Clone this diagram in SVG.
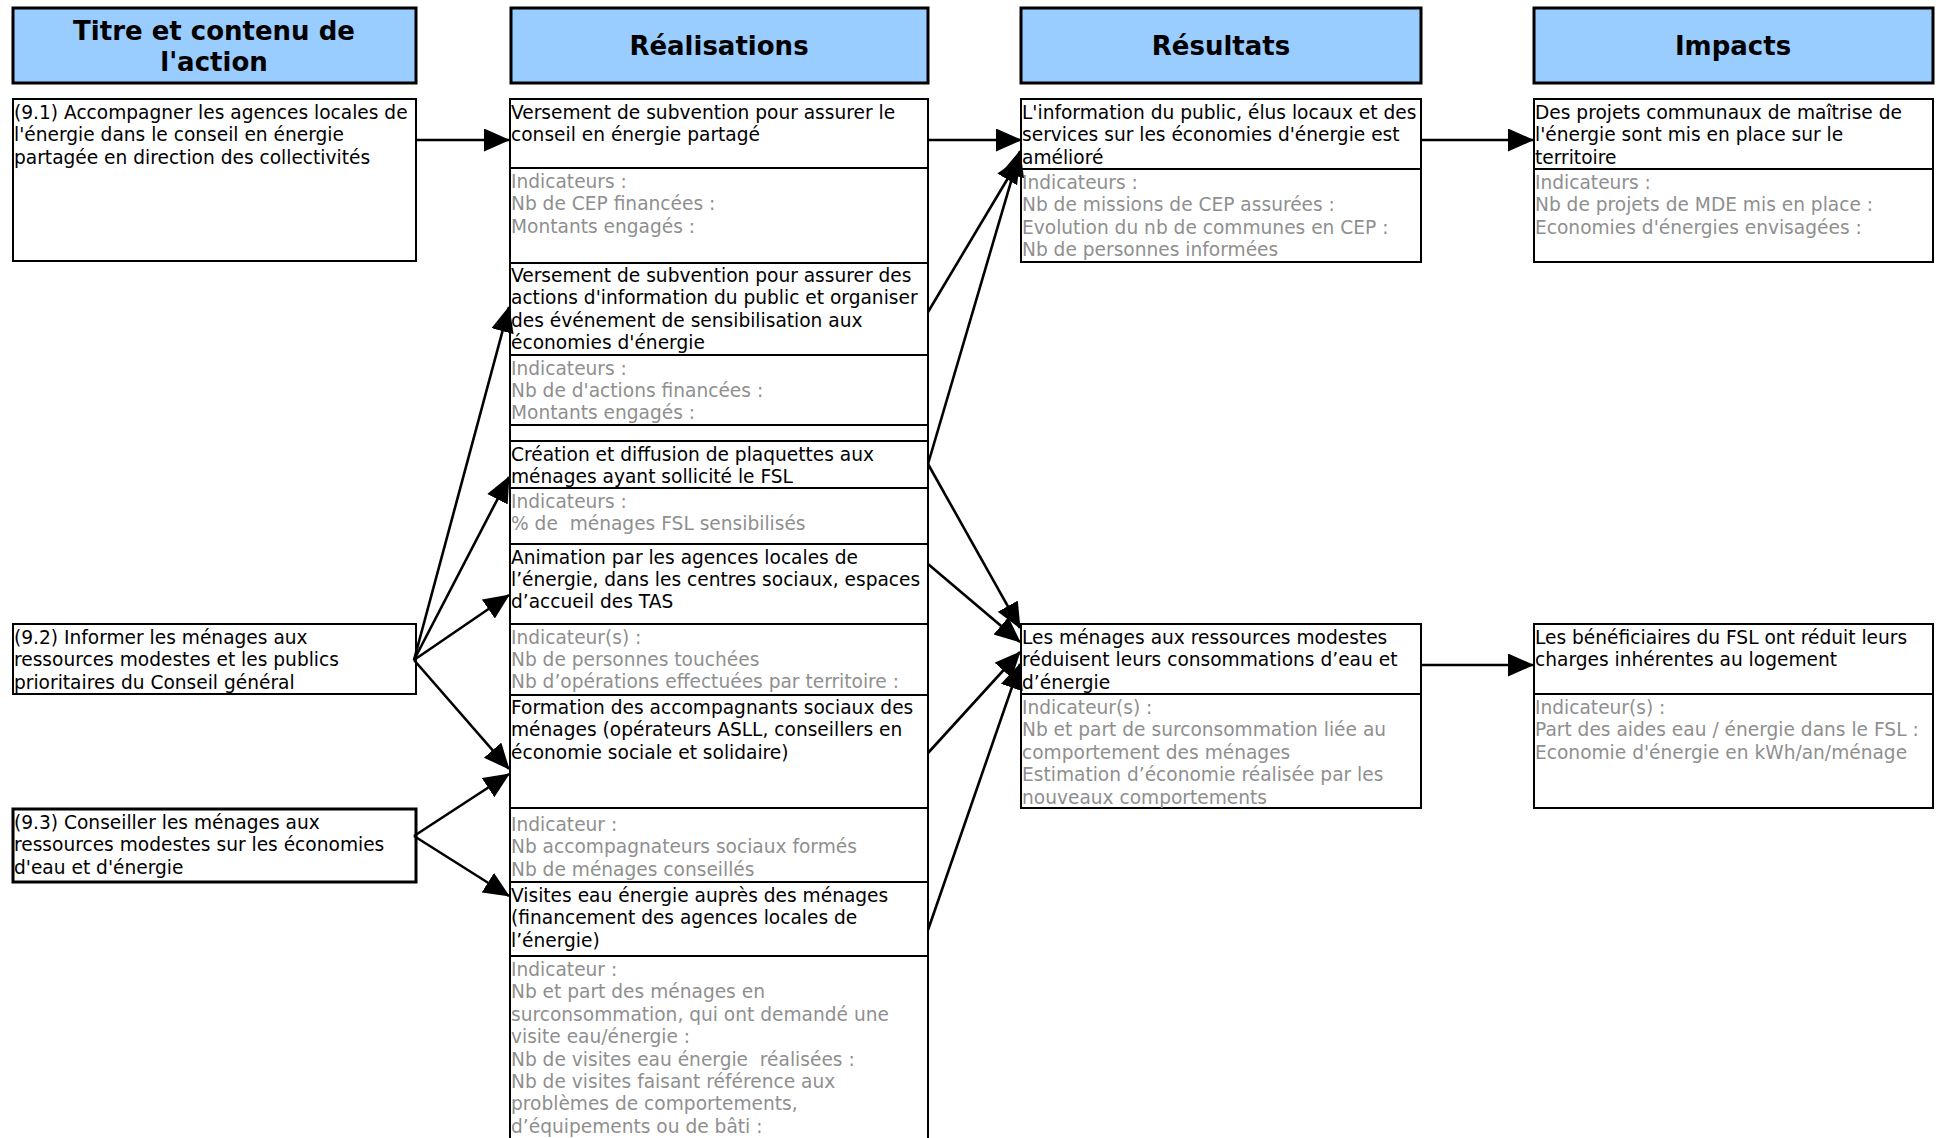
<svg xmlns="http://www.w3.org/2000/svg" width="1942" height="1138" viewBox="0 0 1942 1138">
<style>
.hdr{fill:#99CCFF;stroke:#000;stroke-width:3}
.box{fill:#fff;stroke:#000;stroke-width:2}
.box3{fill:#fff;stroke:#000;stroke-width:3}
.t{font-family:"DejaVu Sans",Verdana,sans-serif;font-size:18.6px;fill:#000}
.g{fill:#8f8f8f}
.h{font-family:"DejaVu Sans",Verdana,sans-serif;font-weight:bold;font-size:26px;text-anchor:middle;fill:#000}
.c{stroke:#000;stroke-width:2.6;fill:none;marker-end:url(#ah)}
</style>
<defs>
<marker id="ah" markerUnits="userSpaceOnUse" markerWidth="26" markerHeight="24" refX="25" refY="11.5" orient="auto">
<path d="M0,0 L26,11.5 L0,23 z" fill="#000"/>
</marker>
</defs>
<rect width="1942" height="1138" fill="#fff"/>

<g id="header-titre"><rect class="hdr" x="13" y="8" width="403" height="75"/><text class="h" x="214" y="39.5">Titre et contenu de</text><text class="h" x="214" y="70.5">l'action</text></g>
<g id="header-realisations"><rect class="hdr" x="511" y="8" width="417" height="75"/><text class="h" x="719" y="55">Réalisations</text></g>
<g id="header-resultats"><rect class="hdr" x="1021" y="8" width="400" height="75"/><text class="h" x="1221" y="55">Résultats</text></g>
<g id="header-impacts"><rect class="hdr" x="1534" y="8" width="399" height="75"/><text class="h" x="1733" y="55">Impacts</text></g>

<g id="action-9-1"><rect class="box" x="13" y="99" width="403" height="162"/>
<text class="t" x="14" y="119"><tspan x="14">(9.1) Accompagner les agences locales de</tspan><tspan x="14" dy="22.4">l'énergie dans le conseil en énergie</tspan><tspan x="14" dy="22.4">partagée en direction des collectivités</tspan></text></g>
<g id="action-9-2"><rect class="box" x="13" y="624" width="403" height="70"/>
<text class="t" x="14" y="644"><tspan x="14">(9.2) Informer les ménages aux</tspan><tspan x="14" dy="22.4">ressources modestes et les publics</tspan><tspan x="14" dy="22.4">prioritaires du Conseil général</tspan></text></g>
<g id="action-9-3"><rect class="box3" x="13" y="809" width="403" height="73"/>
<text class="t" x="14" y="829"><tspan x="14">(9.3) Conseiller les ménages aux</tspan><tspan x="14" dy="22.4">ressources modestes sur les économies</tspan><tspan x="14" dy="22.4">d'eau et d'énergie</tspan></text></g>

<g id="real-1"><rect class="box" x="510" y="99" width="418" height="69"/><rect class="box" x="510" y="168" width="418" height="95"/>
<text class="t" x="511" y="119"><tspan x="511">Versement de subvention pour assurer le</tspan><tspan x="511" dy="22.4">conseil en énergie partagé</tspan></text>
<text class="t g" x="511" y="188"><tspan x="511">Indicateurs :</tspan><tspan x="511" dy="22.4">Nb de CEP financées :</tspan><tspan x="511" dy="22.4">Montants engagés :</tspan></text></g>
<g id="real-2"><rect class="box" x="510" y="263" width="418" height="92"/><rect class="box" x="510" y="355" width="418" height="70"/><rect class="box" x="510" y="425" width="418" height="16"/>
<text class="t" x="511" y="282"><tspan x="511">Versement de subvention pour assurer des</tspan><tspan x="511" dy="22.4">actions d'information du public et organiser</tspan><tspan x="511" dy="22.4">des événement de sensibilisation aux</tspan><tspan x="511" dy="22.4">économies d'énergie</tspan></text>
<text class="t g" x="511" y="374.5"><tspan x="511">Indicateurs :</tspan><tspan x="511" dy="22.4">Nb de d'actions financées :</tspan><tspan x="511" dy="22.4">Montants engagés :</tspan></text></g>
<g id="real-3"><rect class="box" x="510" y="441" width="418" height="47"/><rect class="box" x="510" y="488" width="418" height="56"/>
<text class="t" x="511" y="461"><tspan x="511">Création et diffusion de plaquettes aux</tspan><tspan x="511" dy="22.4">ménages ayant sollicité le FSL</tspan></text>
<text class="t g" x="511" y="507.5"><tspan x="511">Indicateurs :</tspan><tspan x="511" dy="22.4" xml:space="preserve">% de  ménages FSL sensibilisés</tspan></text></g>
<g id="real-4"><rect class="box" x="510" y="544" width="418" height="80"/><rect class="box" x="510" y="624" width="418" height="71"/>
<text class="t" x="511" y="563.5"><tspan x="511">Animation par les agences locales de</tspan><tspan x="511" dy="22.4">l’énergie, dans les centres sociaux, espaces</tspan><tspan x="511" dy="22.4">d’accueil des TAS</tspan></text>
<text class="t g" x="511" y="643.5"><tspan x="511">Indicateur(s) :</tspan><tspan x="511" dy="22.4">Nb de personnes touchées</tspan><tspan x="511" dy="22.4">Nb d’opérations effectuées par territoire :</tspan></text></g>
<g id="real-5"><rect class="box" x="510" y="695" width="418" height="113"/><rect class="box" x="510" y="808" width="418" height="74"/>
<text class="t" x="511" y="714"><tspan x="511">Formation des accompagnants sociaux des</tspan><tspan x="511" dy="22.4">ménages (opérateurs ASLL, conseillers en</tspan><tspan x="511" dy="22.4">économie sociale et solidaire)</tspan></text>
<text class="t g" x="511" y="831"><tspan x="511">Indicateur :</tspan><tspan x="511" dy="22.4">Nb accompagnateurs sociaux formés</tspan><tspan x="511" dy="22.4">Nb de ménages conseillés</tspan></text></g>
<g id="real-6"><rect class="box" x="510" y="882" width="418" height="74"/><rect class="box" x="510" y="956" width="418" height="190"/>
<text class="t" x="511" y="902"><tspan x="511">Visites eau énergie auprès des ménages</tspan><tspan x="511" dy="22.4">(financement des agences locales de</tspan><tspan x="511" dy="22.4">l’énergie)</tspan></text>
<text class="t g" x="511" y="976" xml:space="preserve"><tspan x="511">Indicateur :</tspan><tspan x="511" dy="22.4">Nb et part des ménages en</tspan><tspan x="511" dy="22.4">surconsommation, qui ont demandé une</tspan><tspan x="511" dy="22.4">visite eau/énergie :</tspan><tspan x="511" dy="22.4">Nb de visites eau énergie  réalisées :</tspan><tspan x="511" dy="22.4">Nb de visites faisant référence aux</tspan><tspan x="511" dy="22.4">problèmes de comportements,</tspan><tspan x="511" dy="22.4">d’équipements ou de bâti :</tspan></text></g>

<g id="resultat-1"><rect class="box" x="1021" y="99" width="400" height="70"/><rect class="box" x="1021" y="169" width="400" height="93"/>
<text class="t" x="1022" y="119"><tspan x="1022">L'information du public, élus locaux et des</tspan><tspan x="1022" dy="22.4">services sur les économies d'énergie est</tspan><tspan x="1022" dy="22.4">amélioré</tspan></text>
<text class="t g" x="1022" y="189"><tspan x="1022">Indicateurs :</tspan><tspan x="1022" dy="22.4">Nb de missions de CEP assurées :</tspan><tspan x="1022" dy="22.4">Evolution du nb de communes en CEP :</tspan><tspan x="1022" dy="22.4">Nb de personnes informées</tspan></text></g>
<g id="resultat-2"><rect class="box" x="1021" y="624" width="400" height="70"/><rect class="box" x="1021" y="694" width="400" height="114"/>
<text class="t" x="1022" y="644"><tspan x="1022">Les ménages aux ressources modestes</tspan><tspan x="1022" dy="22.4">réduisent leurs consommations d’eau et</tspan><tspan x="1022" dy="22.4">d’énergie</tspan></text>
<text class="t g" x="1022" y="714"><tspan x="1022">Indicateur(s) :</tspan><tspan x="1022" dy="22.4">Nb et part de surconsommation liée au</tspan><tspan x="1022" dy="22.4">comportement des ménages</tspan><tspan x="1022" dy="22.4">Estimation d’économie réalisée par les</tspan><tspan x="1022" dy="22.4">nouveaux comportements</tspan></text></g>

<g id="impact-1"><rect class="box" x="1534" y="99" width="399" height="70"/><rect class="box" x="1534" y="169" width="399" height="93"/>
<text class="t" x="1535" y="119"><tspan x="1535">Des projets communaux de maîtrise de</tspan><tspan x="1535" dy="22.4">l'énergie sont mis en place sur le</tspan><tspan x="1535" dy="22.4">territoire</tspan></text>
<text class="t g" x="1535" y="189"><tspan x="1535">Indicateurs :</tspan><tspan x="1535" dy="22.4">Nb de projets de MDE mis en place :</tspan><tspan x="1535" dy="22.4">Economies d'énergies envisagées :</tspan></text></g>
<g id="impact-2"><rect class="box" x="1534" y="624" width="399" height="70"/><rect class="box" x="1534" y="694" width="399" height="114"/>
<text class="t" x="1535" y="644"><tspan x="1535">Les bénéficiaires du FSL ont réduit leurs</tspan><tspan x="1535" dy="22.4">charges inhérentes au logement</tspan></text>
<text class="t g" x="1535" y="714"><tspan x="1535">Indicateur(s) :</tspan><tspan x="1535" dy="22.4">Part des aides eau / énergie dans le FSL :</tspan><tspan x="1535" dy="22.4">Economie d'énergie en kWh/an/ménage</tspan></text></g>

<g id="connectors">
<path class="c" d="M416,140 L509,140"/>
<path class="c" d="M928,140 L1021,140"/>
<path class="c" d="M1421,140 L1533,140"/>
<path class="c" d="M1421,665 L1533,665"/>
<path class="c" d="M928,312 L1020,158"/>
<path class="c" d="M928,464 L1020,151"/>
<path class="c" d="M928,464 L1020,628"/>
<path class="c" d="M928,564 L1020,642"/>
<path class="c" d="M928,753 L1020,652"/>
<path class="c" d="M928,930 L1020,664"/>
<path class="c" d="M414,660 L509,307"/>
<path class="c" d="M414,660 L509,477"/>
<path class="c" d="M414,660 L509,595"/>
<path class="c" d="M414,660 L509,769"/>
<path class="c" d="M414,836 L509,774"/>
<path class="c" d="M414,836 L509,896"/>
</g>
</svg>
